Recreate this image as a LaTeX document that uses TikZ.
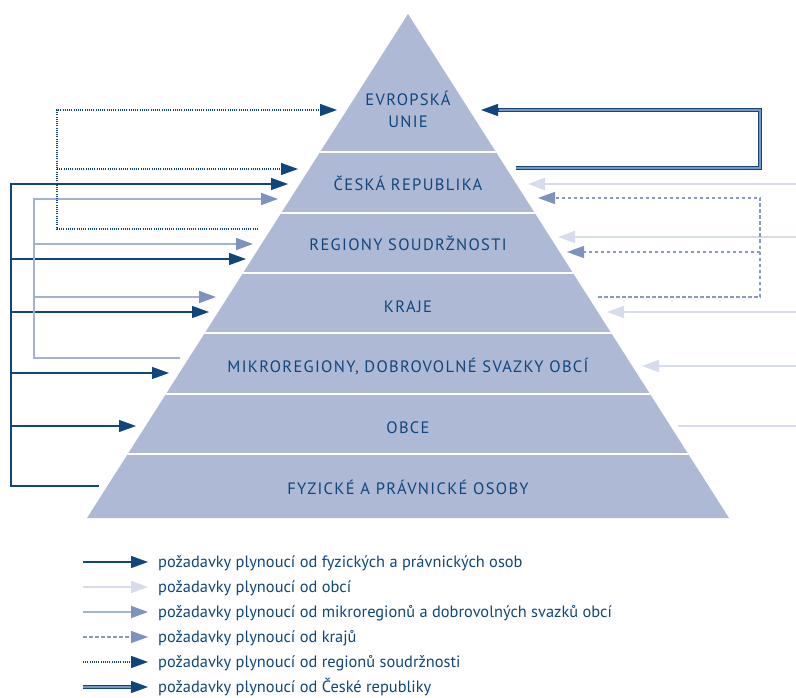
\documentclass[tikz,border=0pt]{standalone}
\usepackage{fontspec}
\setmainfont{PT Sans}
\newfontfamily\capsfont[LetterSpace=8]{PT Sans}
\usetikzlibrary{arrows.meta}
\definecolor{dkb}{RGB}{16,70,124}
\definecolor{pyr}{RGB}{173,185,213}
\definecolor{lgt}{RGB}{214,220,236}
\definecolor{medl}{RGB}{163,178,210}
\definecolor{medh}{RGB}{126,146,192}
\definecolor{dsh}{RGB}{136,152,192}
\definecolor{dblin}{RGB}{120,152,192}
\begin{document}
\begin{tikzpicture}[x=1pt,y=-1pt,
  tipdk/.style={-{Triangle[length=17pt,width=12pt,fill=dkb,color=dkb]}},
  tiplg/.style={-{Triangle[length=17pt,width=12pt,fill=lgt,color=lgt]}},
  tipmd/.style={-{Triangle[length=17pt,width=12pt,fill=medh,color=medh]}},
  fyzline/.style={draw=dkb,line width=1.3pt},
  obcline/.style={draw=lgt,line width=1.8pt},
  mikline/.style={draw=medl,line width=1.8pt},
  krline/.style={draw=dsh,line width=1.2pt,dash pattern=on 3.5pt off 2.5pt},
  rsline/.style={draw=dkb,line width=1.2pt,dash pattern=on 1pt off 1.2pt},
  crline/.style={draw=dkb,line width=0.9pt,double=dblin,double distance=1.6pt},
  lbl/.style={font=\capsfont\fontsize{16.5}{21}\selectfont,text=dkb,align=center,anchor=base,inner sep=0pt},
  leg/.style={font=\fontsize{16.4}{20}\selectfont,text=dkb,anchor=base west,inner sep=0pt}]
\useasboundingbox (0,0) rectangle (796,698);

% pyramid
\fill[pyr] (408,14) -- (729,518) -- (87,518) -- cycle;
\begin{scope}
\clip (408,14) -- (729,518) -- (87,518) -- cycle;
\foreach \yy in {152,213,273,333,394,454}
  \draw[white,line width=2.2pt] (80,\yy) -- (740,\yy);
\end{scope}

% labels
\node[lbl] (eu1) at (408,106) {EVROPSKÁ};
\node[lbl] (eu2) at (408,128) {UNIE};
\node[lbl] (cr) at (408,191) {ČESKÁ REPUBLIKA};
\node[lbl] (rs) at (408,251) {REGIONY SOUDRŽNOSTI};
\node[lbl] (kr) at (408,312) {KRAJE};
\node[lbl] (mi) at (408,372) {MIKROREGIONY, DOBROVOLNÉ SVAZKY OBCÍ};
\node[lbl] (ob) at (408,433) {OBCE};
\node[lbl] (fy) at (408,494) {FYZICKÉ A PRÁVNICKÉ OSOBY};

% coordinates - fyzicke osoby (left, dark solid)
\coordinate (fA) at (11,184); \coordinate (fCR) at (288,184);
\coordinate (fB) at (11,259); \coordinate (fRS) at (246,259);
\coordinate (fC) at (11,312); \coordinate (fKR) at (209,312);
\coordinate (fD) at (11,373); \coordinate (fMI) at (169,373);
\coordinate (fE) at (11,426); \coordinate (fOB) at (136,426);
\coordinate (fF) at (11,486); \coordinate (fFY) at (99,486);
% mikroregiony (left, medium)
\coordinate (mA) at (34,199); \coordinate (mCR) at (278,199);
\coordinate (mB) at (34,244); \coordinate (mRS) at (253,244);
\coordinate (mC) at (34,297); \coordinate (mKR) at (216,297);
\coordinate (mD) at (34,358); \coordinate (mMI) at (180,358);
% regiony soudrznosti (left, dotted)
\coordinate (rA) at (57,110); \coordinate (rEU) at (337,110);
\coordinate (rB) at (57,169); \coordinate (rCR) at (298,169);
\coordinate (rC) at (57,229); \coordinate (rRS) at (258,229);
% ceska republika (right, double)
\coordinate (cS) at (516,168); \coordinate (cA) at (760,168);
\coordinate (cB) at (760,110); \coordinate (cH) at (498,110); \coordinate (cEU) at (481,110);
% obce (right, light)
\coordinate (oA) at (796,184); \coordinate (oCR) at (528,184);
\coordinate (oB) at (796,237); \coordinate (oRS) at (558,237);
\coordinate (oC) at (796,312); \coordinate (oKR) at (607,312);
\coordinate (oD) at (796,366); \coordinate (oMI) at (642,366);
\coordinate (oE) at (796,426); \coordinate (oOB) at (678,426);
% kraje (right, dashed)
\coordinate (kA) at (760,198); \coordinate (kCR) at (538,198);
\coordinate (kB) at (760,252); \coordinate (kRS) at (567,252);
\coordinate (kC) at (760,297); \coordinate (kKR) at (598,297);

% connectors: fyzicke osoby
\draw[fyzline,tipdk] (fFY) -- (fF) -- (fA) -- (fCR);
\draw[fyzline,tipdk] (fB) -- (fRS);
\draw[fyzline,tipdk] (fC) -- (fKR);
\draw[fyzline,tipdk] (fD) -- (fMI);
\draw[fyzline,tipdk] (fE) -- (fOB);
% mikroregiony
\draw[mikline,tipmd] (mMI) -- (mD) -- (mA) -- (mCR);
\draw[mikline,tipmd] (mB) -- (mRS);
\draw[mikline,tipmd] (mC) -- (mKR);
% regiony soudrznosti
\draw[rsline,tipdk] (rRS) -- (rC) -- (rA) -- (rEU);
\draw[rsline,tipdk] (rB) -- (rCR);
% ceska republika
\draw[crline] (cS) -- (cA) -- (cB) -- (cH);
\draw[fyzline,tipdk] (cH) -- (cEU);
% obce
\draw[obcline,tiplg] (oA) -- (oCR);
\draw[obcline,tiplg] (oB) -- (oRS);
\draw[obcline,tiplg] (oC) -- (oKR);
\draw[obcline,tiplg] (oD) -- (oMI);
\draw[obcline] (oE) -- (oOB);
% kraje
\draw[krline,tipmd] (kKR) -- (kC) -- (kA) -- (kCR);
\draw[krline,tipmd] (kB) -- (kRS);

% legend
\foreach \i/\yy in {1/562,2/587,3/612,4/637,5/662,6/687}{
  \coordinate (ls\i) at (83,\yy);
  \coordinate (le\i) at (148,\yy);
}
\draw[fyzline,tipdk] (ls1) -- (le1);
\draw[obcline,tiplg] (ls2) -- (le2);
\draw[mikline,tipmd] (ls3) -- (le3);
\draw[krline,tipmd] (ls4) -- (le4);
\draw[rsline,tipdk] (ls5) -- (le5);
\coordinate (l6h) at (131,687);
\draw[crline] (ls6) -- (l6h);
\draw[fyzline,tipdk] (l6h) -- (le6);

\node[leg] (t1) at (158,567) {požadavky plynoucí od fyzických a právnických osob};
\node[leg] (t2) at (158,592) {požadavky plynoucí od obcí};
\node[leg] (t3) at (158,617) {požadavky plynoucí od mikroregionů a dobrovolných svazků obcí};
\node[leg] (t4) at (158,642) {požadavky plynoucí od krajů};
\node[leg] (t5) at (158,667) {požadavky plynoucí od regionů soudržnosti};
\node[leg] (t6) at (158,692) {požadavky plynoucí od České republiky};
\end{tikzpicture}
\end{document}
